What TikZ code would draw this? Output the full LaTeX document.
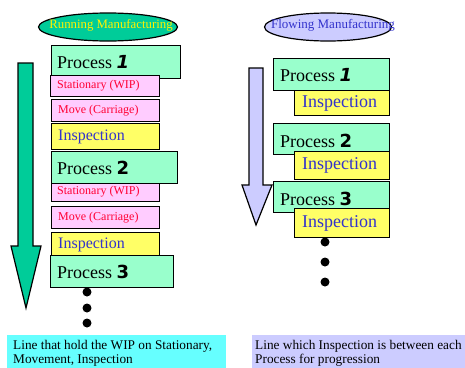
\documentclass[tikz,border=0pt]{standalone}
\usepackage{fontspec}
\setmainfont{Liberation Serif}
\newfontfamily\numfont{DejaVu Sans}
\usetikzlibrary{shapes.geometric}
\definecolor{tealg}{HTML}{00CC99}
\definecolor{procg}{HTML}{99FFCC}
\definecolor{pinkb}{HTML}{FFCCFF}
\definecolor{yellb}{HTML}{FFFF66}
\definecolor{bluet}{HTML}{3333CC}
\definecolor{redt}{HTML}{FF0033}
\definecolor{lav}{HTML}{CCCCFF}
\definecolor{cyanb}{HTML}{66FFFF}
\newcommand\pnum[1]{{\numfont\bfseries #1}}
\begin{document}
\begin{tikzpicture}[x=1pt,y=-1pt,
  box/.style={draw=black, line width=1.2pt, anchor=north west, inner sep=0pt},
  procbox/.style={box, fill=procg},
  statbox/.style={box, fill=pinkb},
  inspbox/.style={box, fill=yellb},
  lbl/.style={anchor=west, inner sep=0pt},
  proctxt/.style={lbl, font=\fontsize{18}{20}\selectfont, text=black},
  redtxt/.style={lbl, font=\fontsize{12}{14}\selectfont, text=redt},
  insptxt/.style={lbl, font=\fontsize{16}{18}\selectfont, text=bluet},
  insptxtb/.style={lbl, font=\fontsize{18}{20}\selectfont, text=bluet},
  dot/.style={circle, fill=black, inner sep=0pt, minimum size=9pt},
  caption/.style={anchor=north west, inner sep=0pt, align=left, font=\fontsize{13.3}{14}\selectfont}
]
\useasboundingbox (0,0) rectangle (465,367);

% ---- Left: Running Manufacturing ----
\node[ellipse, draw=black, line width=1.2pt, fill=tealg, minimum width=139pt, minimum height=28pt, inner sep=0pt] (e1) at (108,27) {};
\node[inner sep=0pt, text=yellow, font=\fontsize{12.8}{14}\selectfont] (e1t) at (111,25) {Running Manufacturing};

\fill[tealg, draw=black, line width=1.2pt] (18,63) -- (33,63) -- (33,246) -- (41,246) -- (26,308) -- (11,246) -- (18,246) -- cycle;

\node[procbox, minimum width=129pt, minimum height=33pt] (lp1) at (51,45) {};
\node[proctxt] (lp1t) at ([xshift=6pt]lp1.west) {Process \pnum{\itshape 1}};
\node[statbox, minimum width=109pt, minimum height=21pt] (ls1) at (50,75) {};
\node[redtxt] (ls1t) at ([xshift=7pt]ls1.west) {Stationary (WIP)};
\node[statbox, minimum width=108pt, minimum height=22pt] (lm1) at (51,99) {};
\node[redtxt] (lm1t) at ([xshift=7pt]lm1.west) {Move (Carriage)};
\node[inspbox, minimum width=108pt, minimum height=26pt] (li1) at (51,123) {};
\node[insptxt] (li1t) at ([xshift=7pt]li1.west) {Inspection};

\node[statbox, minimum width=108pt, minimum height=21pt] (ls2) at (51,180) {};
\node[redtxt] (ls2t) at ([xshift=6pt,yshift=-1pt]ls2.west) {Stationary (WIP)};
\node[procbox, minimum width=126pt, minimum height=32pt] (lp2) at (51,151) {};
\node[proctxt] (lp2t) at ([xshift=6pt]lp2.west) {Process \pnum{2}};
\node[statbox, minimum width=108pt, minimum height=22pt] (lm2) at (51,206) {};
\node[redtxt] (lm2t) at ([xshift=7pt]lm2.west) {Move (Carriage)};
\node[inspbox, minimum width=108pt, minimum height=24pt] (li2) at (51,232) {};
\node[insptxt] (li2t) at ([xshift=7pt]li2.west) {Inspection};
\node[procbox, minimum width=123pt, minimum height=32pt] (lp3) at (50,255) {};
\node[proctxt] (lp3t) at ([xshift=7pt]lp3.west) {Process \pnum{3}};

\node[dot] (ld1) at (87,292) {};
\node[dot] (ld2) at (87,308) {};
\node[dot] (ld3) at (87,323) {};

\node[anchor=north west, fill=cyanb, minimum width=219pt, minimum height=40pt, inner sep=0pt] (lc) at (7,335) {};
\node[caption] (lct) at (13,340) {Line that hold the WIP on Stationary,\\Movement, Inspection};

% ---- Right: Flowing Manufacturing ----
\node[ellipse, draw=black, line width=1.2pt, fill=lav, minimum width=127pt, minimum height=28pt, inner sep=0pt] (e2) at (328,27) {};
\node[inner sep=0pt, text=bluet, font=\fontsize{13}{14}\selectfont] (e2t) at (333,25) {Flowing Manufacturing};

\fill[lav, draw=black, line width=1.2pt] (249,68) -- (263,68) -- (263,185) -- (272,185) -- (256,225) -- (242,185) -- (249,185) -- cycle;

\node[procbox, minimum width=116pt, minimum height=32pt] (rp1) at (273,58) {};
\node[proctxt] (rp1t) at ([xshift=7pt]rp1.west) {Process \pnum{\itshape 1}};
\node[inspbox, minimum width=95pt, minimum height=25pt] (ri1) at (294,90) {};
\node[insptxtb] (ri1t) at ([xshift=8pt]ri1.west) {Inspection};
\node[procbox, minimum width=116pt, minimum height=31pt] (rp2) at (273,123) {};
\node[proctxt] (rp2t) at ([xshift=7pt,yshift=-2pt]rp2.west) {Process \pnum{2}};
\node[inspbox, minimum width=95pt, minimum height=28pt] (ri2) at (294,151) {};
\node[insptxtb] (ri2t) at ([xshift=8pt]ri2.west) {Inspection};
\node[procbox, minimum width=116pt, minimum height=31pt] (rp3) at (273,181) {};
\node[proctxt] (rp3t) at ([xshift=7pt,yshift=-2pt]rp3.west) {Process \pnum{3}};
\node[inspbox, minimum width=95pt, minimum height=29pt] (ri3) at (294,208) {};
\node[insptxtb] (ri3t) at ([xshift=8pt]ri3.west) {Inspection};

\node[dot] (rd1) at (325,242) {};
\node[dot] (rd2) at (325,262) {};
\node[dot] (rd3) at (325,282) {};

\node[anchor=north west, fill=lav, minimum width=220pt, minimum height=40pt, inner sep=0pt] (rc) at (252,335) {};
\node[caption] (rct) at (255,340) {Line which Inspection is between each\\Process for progression};
\end{tikzpicture}
\end{document}
